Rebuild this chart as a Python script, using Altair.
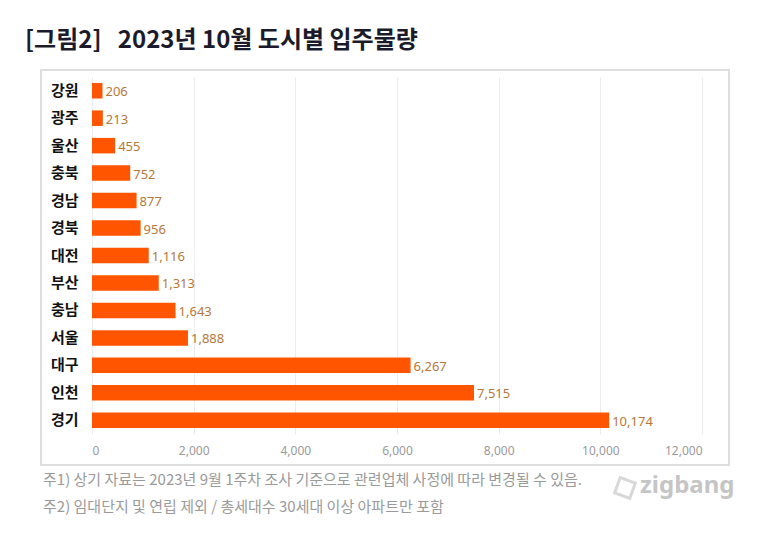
import altair as alt
import pandas as pd

cities = ["강원", "광주", "울산", "충북", "경남", "경북", "대전", "부산", "충남", "서울", "대구", "인천", "경기"]
values = [206, 213, 455, 752, 877, 956, 1116, 1313, 1643, 1888, 6267, 7515, 10174]
x_ticks = [0, 2000, 4000, 6000, 8000, 10000, 12000]
title_text = "[그림2]\u00a0\u00a0 2023년 10월 도시별 입주물량"
note1 = "주1) 상기 자료는 2023년 9월 1주차 조사 기준으로 관련업체 사정에 따라 변경될 수 있음."
note2 = "주2) 임대단지 및 연립 제외 / 총세대수 30세대 이상 아파트만 포함"
brand = "zigbang"

BAR = "#FF5400"
LABEL = "#B5773A"
KFONT = "Noto Sans CJK KR"

df = pd.DataFrame({"city": cities, "value": values})

x_enc = alt.X(
    "value:Q",
    scale=alt.Scale(domain=[0, 12000], nice=False),
    axis=alt.Axis(values=x_ticks, format=",d", title=None, domain=False, ticks=False,
                  grid=True, gridColor="#ececec", labelColor="#9a9a9a", labelFont="Noto Sans",
                  labelFontSize=12, labelPadding=11),
)
y_enc = alt.Y(
    "city:N", sort=cities,
    scale=alt.Scale(paddingInner=0.435, paddingOuter=0.2175),
    axis=alt.Axis(title=None, domain=False, ticks=False, grid=False, labelColor="#111111",
                  labelFont=KFONT, labelFontWeight="bold", labelFontSize=15, labelPadding=14),
)

one = alt.Data(values=[{"k": 1}])

box = alt.Chart(one).mark_rect(fillOpacity=0, stroke="#dedede", strokeWidth=2).encode(
    x=alt.value(-51), x2=alt.value(637), y=alt.value(-7), y2=alt.value(388)
)

bars = alt.Chart(df).mark_bar(color=BAR).encode(x=x_enc, y=y_enc)

labels = alt.Chart(df).mark_text(align="left", baseline="middle", dx=3, dy=1.5,
                                 font="Noto Sans", fontSize=13, color=LABEL).encode(
    x="value:Q", y=alt.Y("city:N", sort=cities), text=alt.Text("value:Q", format=",d")
)

title = alt.Chart(alt.Data(values=[{"t": title_text}])).mark_text(
    align="left", baseline="middle", font=KFONT, fontSize=24, fontWeight="bold", color="#1b1b2b"
).encode(x=alt.value(-67), y=alt.value(-36), text="t:N")

n1 = alt.Chart(alt.Data(values=[{"t": note1}])).mark_text(
    align="left", baseline="middle", font=KFONT, fontSize=15, color="#9a9a9a"
).encode(x=alt.value(-49), y=alt.value(403), text="t:N")

n2 = alt.Chart(alt.Data(values=[{"t": note2}])).mark_text(
    align="left", baseline="middle", font=KFONT, fontSize=15, color="#9a9a9a"
).encode(x=alt.value(-49), y=alt.value(430), text="t:N")

icon = alt.Chart(one).mark_point(shape="square", filled=False, stroke="#c8c8c8",
                                 strokeWidth=3, size=260, angle=20).encode(
    x=alt.value(533), y=alt.value(411)
)

logo = alt.Chart(alt.Data(values=[{"t": brand}])).mark_text(
    align="left", baseline="middle", font="Noto Sans", fontSize=24, fontWeight="bold", color="#c5c5c5"
).encode(x=alt.value(548), y=alt.value(409), text="t:N")

chart = alt.layer(box, bars, labels, title, n1, n2, icon, logo).properties(
    width=610, height=357,
    autosize=alt.AutoSizeParams(type="none"),
    padding={"left": 84, "top": 69, "right": 60, "bottom": 100},
).configure_view(strokeWidth=0)

chart.save("out.html", embed_options={"renderer": "svg", "actions": False})
